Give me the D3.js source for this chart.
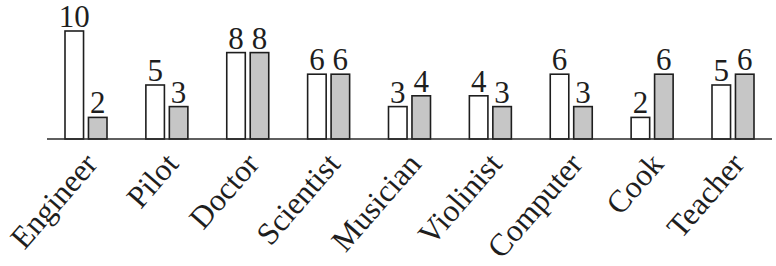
<!DOCTYPE html>
<html>
<head>
<meta charset="utf-8">
<script src="https://cdn.jsdelivr.net/npm/d3@7"></script>
<style>
  body { margin: 0; background: #fff; }
  svg { display: block; }
  text { font-family: "Liberation Serif", "Times New Roman", serif; fill: #1e1e1e; }
</style>
</head>
<body>
<div id="wrapper"></div>
<script>
// data
const jobs = ["Engineer", "Pilot", "Doctor", "Scientist", "Musician", "Violinist", "Computer", "Cook", "Teacher"];
const seriesNames = ["first", "second"];
const firstValues = [10, 5, 8, 6, 3, 4, 6, 2, 5];
const secondValues = [2, 3, 8, 6, 4, 3, 3, 6, 6];

function drawChart() {
  const dimensions = { width: 776, height: 266, axisY: 139, topY: 31 };

  const rows = jobs.map((job, i) => ({ job, values: [firstValues[i], secondValues[i]] }));

  const wrapper = d3.select("#wrapper")
    .append("svg")
    .attr("width", dimensions.width)
    .attr("height", dimensions.height);

  // scales
  const xScale = d3.scalePoint()
    .domain(jobs)
    .range([86, 733]);

  const subScale = d3.scaleBand()
    .domain(seriesNames)
    .range([-21, 21])
    .paddingInner(0.21);

  const yScale = d3.scaleLinear()
    .domain([0, 10])
    .range([dimensions.axisY, dimensions.topY]);

  const fills = ["#ffffff", "#c6c6c6"];

  // bars
  const groups = wrapper.selectAll("g.group")
    .data(rows)
    .enter()
    .append("g")
    .attr("class", "group")
    .attr("transform", d => `translate(${xScale(d.job)},0)`);

  groups.selectAll("rect")
    .data(d => d.values.map((v, k) => ({ key: seriesNames[k], v, k })))
    .enter()
    .append("rect")
    .attr("x", d => subScale(d.key))
    .attr("y", d => yScale(d.v))
    .attr("width", subScale.bandwidth())
    .attr("height", d => yScale(0) - yScale(d.v))
    .attr("fill", d => fills[d.k])
    .attr("stroke", "#1e1e1e")
    .attr("stroke-width", 1.6);

  groups.selectAll("text.val")
    .data(d => d.values.map((v, k) => ({ key: seriesNames[k], v })))
    .enter()
    .append("text")
    .attr("class", "val")
    .attr("x", d => subScale(d.key) + subScale.bandwidth() / 2)
    .attr("y", d => yScale(d.v) - 4)
    .attr("text-anchor", "middle")
    .style("font-size", "31px")
    .text(d => d.v);

  // baseline axis
  const xAxis = d3.axisBottom(xScale).tickSize(0).tickFormat("");
  const axisG = wrapper.append("g")
    .attr("transform", `translate(0,${dimensions.axisY})`)
    .call(xAxis);
  axisG.select(".domain").remove();
  axisG.append("line")
    .attr("x1", 47).attr("x2", 772)
    .attr("stroke", "#2a2a2a")
    .attr("stroke-width", 1.6);

  // category labels
  wrapper.selectAll("text.cat")
    .data(jobs)
    .enter()
    .append("text")
    .attr("class", "cat")
    .attr("text-anchor", "end")
    .attr("transform", d => `translate(${xScale(d) + 13},${dimensions.axisY + 26}) rotate(-49)`)
    .style("font-size", "31.5px")
    .text(d => d);
}
drawChart();
</script>
</body>
</html>
